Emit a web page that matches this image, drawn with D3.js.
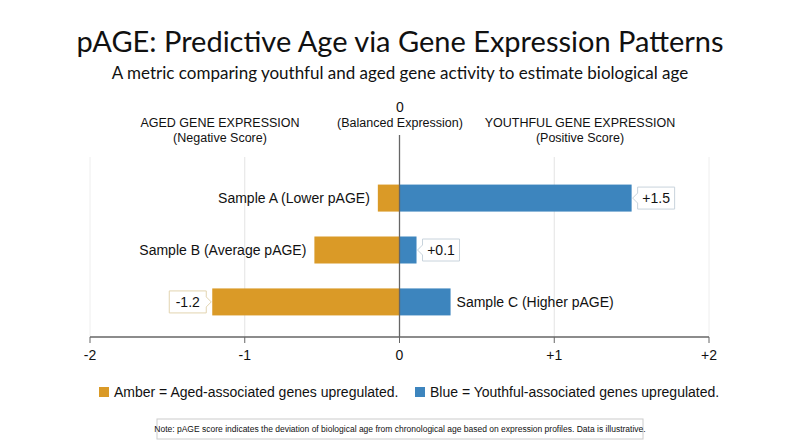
<!DOCTYPE html>
<html><head><meta charset="utf-8">
<script src="https://cdn.jsdelivr.net/npm/d3@7"></script>
<style>body{margin:0;background:#fff;font-family:"Liberation Sans",Arial,sans-serif}</style>
</head><body>
<svg id="c" width="800" height="447"></svg>
<script>
const samples = ["Sample A (Lower pAGE)","Sample B (Average pAGE)","Sample C (Higher pAGE)"];
const aged = [-0.14,-0.55,-1.21];
const youthful = [1.5,0.11,0.33];
const scoreLabels = ["+1.5","+0.1","-1.2"];
const ticks = [-2,-1,0,1,2];
const tickLabels = ["-2","-1","0","+1","+2"];

const svg = d3.select("#c");
const x = d3.scaleLinear().domain([-2,2]).range([90,709]);
const y = d3.scaleBand().domain(samples).range([169,331]).paddingInner(0.48).paddingOuter(0.3);
const amber="#DA9A27", blue="#3D85BE";

svg.append("text").attr("x",400).attr("y",52).attr("text-anchor","middle").attr("font-family","Lato, sans-serif").attr("font-size",29).attr("fill","#111").text("pAGE: Predictive Age via Gene Expression Patterns");
svg.append("text").attr("x",400).attr("y",79).attr("text-anchor","middle").attr("font-family","Lato, sans-serif").attr("font-size",17).attr("fill","#111").text("A metric comparing youthful and aged gene activity to estimate biological age");

[-1,1].forEach(v=>svg.append("line").attr("x1",x(v)).attr("x2",x(v)).attr("y1",157).attr("y2",337).attr("stroke","#e3e3e3"));
[-2,2].forEach(v=>svg.append("line").attr("x1",x(v)).attr("x2",x(v)).attr("y1",157).attr("y2",337).attr("stroke","#eeeeee"));

const g = svg.append("g");
samples.forEach((s,i)=>{
  g.append("rect").attr("x",x(aged[i])).attr("width",x(0)-x(aged[i])).attr("y",y(s)).attr("height",y.bandwidth()).attr("fill",amber);
  g.append("rect").attr("x",x(0)).attr("width",x(youthful[i])-x(0)).attr("y",y(s)).attr("height",y.bandwidth()).attr("fill",blue);
});
const cy = s=>y(s)+y.bandwidth()/2;
const lab = (tx,ty,anchor,t)=>svg.append("text").attr("x",tx).attr("y",ty).attr("dy","0.35em").attr("text-anchor",anchor).attr("font-size",14).attr("fill","#111").text(t);
lab(x(aged[0])-8,cy(samples[0]),"end",samples[0]);
lab(x(aged[1])-8,cy(samples[1]),"end",samples[1]);
lab(x(youthful[2])+6,cy(samples[2]),"start",samples[2]);

function callout(px,py,dir,text,stroke){
  const w=text.length*7.5+7,h=22,p=5;
  const x0=px+dir*p, x1=x0+dir*w;
  const path=`M${px},${py} L${x0},${py-5} L${x0},${py-h/2} L${x1},${py-h/2} L${x1},${py+h/2} L${x0},${py+h/2} L${x0},${py+5} Z`;
  svg.append("path").attr("d",path).attr("fill","#fff").attr("stroke",stroke).attr("stroke-linejoin","round");
  svg.append("text").attr("x",(x0+x1)/2).attr("y",py).attr("dy","0.35em").attr("text-anchor","middle").attr("font-size",14).attr("fill","#111").text(text);
}
callout(x(youthful[0])+1,cy(samples[0]),1,scoreLabels[0],"#c8d3dc");
callout(x(youthful[1])+1,cy(samples[1]),1,scoreLabels[1],"#c8d3dc");
callout(x(aged[2])-1,cy(samples[2]),-1,scoreLabels[2],"#e2d4b0");

svg.append("line").attr("x1",x(0)).attr("x2",x(0)).attr("y1",135).attr("y2",337).attr("stroke","#666").attr("stroke-width",1.3);
svg.append("line").attr("x1",x(-2)).attr("x2",x(2)).attr("y1",337).attr("y2",337).attr("stroke","#666").attr("stroke-width",1.3);
ticks.forEach((t,i)=>{
  svg.append("line").attr("x1",x(t)).attr("x2",x(t)).attr("y1",337).attr("y2",343).attr("stroke","#666");
  svg.append("text").attr("x",x(t)).attr("y",360).attr("text-anchor","middle").attr("font-size",14).attr("fill","#111").text(tickLabels[i]);
});

const head=(tx,l1,l2)=>{svg.append("text").attr("x",tx).attr("y",127).attr("text-anchor","middle").attr("font-size",12.5).attr("fill","#111").text(l1);
 svg.append("text").attr("x",tx).attr("y",142).attr("text-anchor","middle").attr("font-size",12.5).attr("fill","#111").text(l2);};
head(220,"AGED GENE EXPRESSION","(Negative Score)");
head(580,"YOUTHFUL GENE EXPRESSION","(Positive Score)");
svg.append("text").attr("x",400).attr("y",112).attr("text-anchor","middle").attr("font-size",14).attr("fill","#111").text("0");
svg.append("text").attr("x",400).attr("y",127).attr("text-anchor","middle").attr("font-size",12.5).attr("fill","#111").text("(Balanced Expression)");

svg.append("rect").attr("x",99).attr("y",387).attr("width",10).attr("height",10).attr("fill",amber);
svg.append("text").attr("x",114).attr("y",392).attr("dy","0.35em").attr("font-size",14).attr("fill","#111").text("Amber = Aged-associated genes upregulated.");
svg.append("rect").attr("x",415).attr("y",387).attr("width",10).attr("height",10).attr("fill",blue);
svg.append("text").attr("x",430).attr("y",392).attr("dy","0.35em").attr("font-size",14).attr("fill","#111").text("Blue = Youthful-associated genes upregulated.");

svg.append("rect").attr("x",157).attr("y",419).attr("width",486).attr("height",20).attr("fill","#fff").attr("stroke","#ccc");
svg.append("text").attr("x",400).attr("y",429).attr("dy","0.35em").attr("text-anchor","middle").attr("font-size",8.5).attr("fill","#111").text("Note: pAGE score indicates the deviation of biological age from chronological age based on expression profiles. Data is illustrative.");
</script></body></html>
